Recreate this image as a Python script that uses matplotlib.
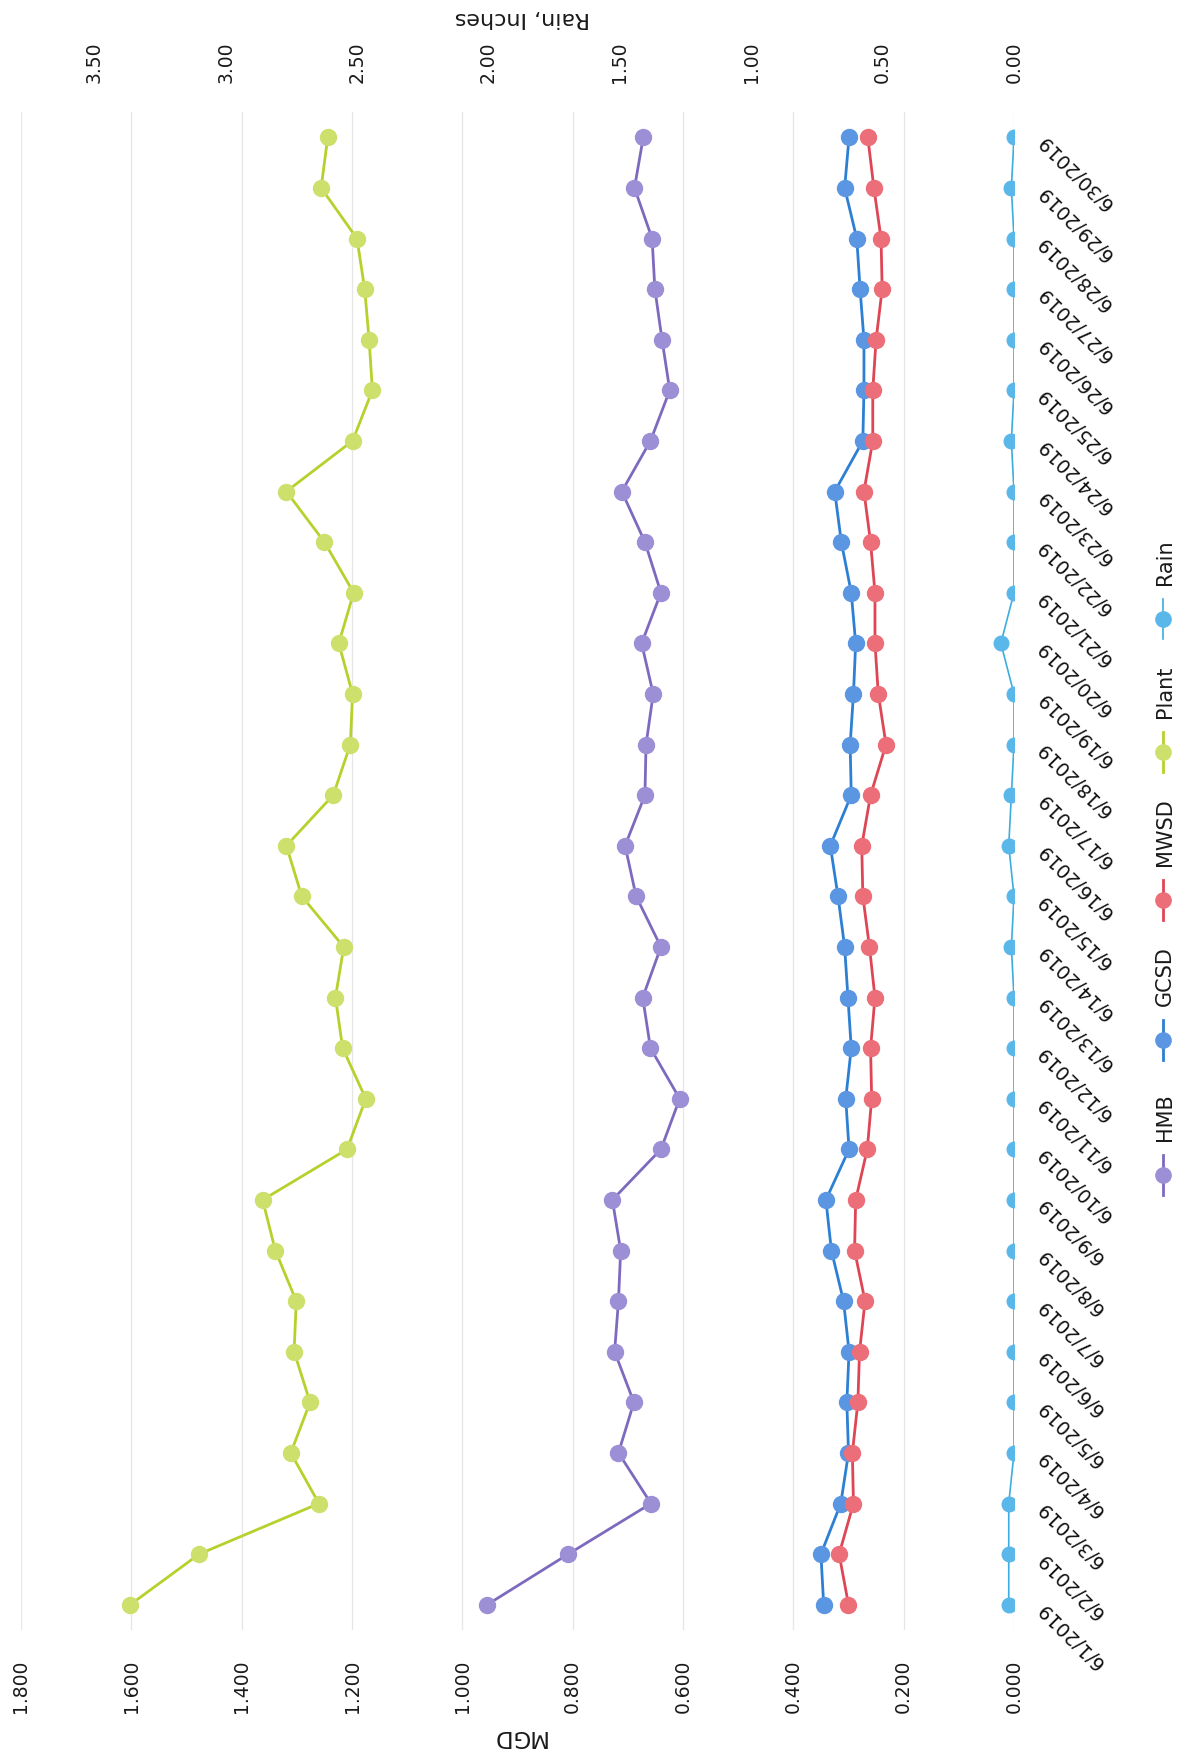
import numpy as np
import matplotlib
matplotlib.use("Agg")
import matplotlib.pyplot as plt
from matplotlib.lines import Line2D

# Daily flows (MGD) and rainfall (inches), June 2019
dates = ["6/%d/2019" % d for d in range(1, 31)]
hmb = [0.955, 0.808, 0.658, 0.717, 0.689, 0.724, 0.717, 0.713, 0.728, 0.640,
       0.606, 0.659, 0.673, 0.640, 0.685, 0.705, 0.669, 0.667, 0.654, 0.675,
       0.640, 0.669, 0.711, 0.659, 0.624, 0.638, 0.651, 0.656, 0.688, 0.672]
gcsd = [0.345, 0.350, 0.314, 0.300, 0.303, 0.299, 0.309, 0.331, 0.341, 0.299,
        0.305, 0.295, 0.301, 0.307, 0.319, 0.333, 0.295, 0.297, 0.291, 0.287,
        0.295, 0.313, 0.325, 0.274, 0.272, 0.272, 0.279, 0.285, 0.307, 0.299]
mwsd = [0.300, 0.317, 0.291, 0.293, 0.283, 0.280, 0.270, 0.289, 0.287, 0.266,
        0.258, 0.260, 0.252, 0.262, 0.274, 0.276, 0.260, 0.232, 0.246, 0.252,
        0.252, 0.260, 0.272, 0.256, 0.256, 0.250, 0.239, 0.241, 0.254, 0.265]
plant = [1.602, 1.477, 1.260, 1.311, 1.276, 1.305, 1.301, 1.339, 1.362, 1.209,
         1.175, 1.217, 1.230, 1.215, 1.291, 1.319, 1.234, 1.203, 1.199, 1.224,
         1.197, 1.250, 1.319, 1.199, 1.163, 1.169, 1.177, 1.191, 1.256, 1.244]
rain = [0.02, 0.02, 0.02, 0.00, 0.00, 0.00, 0.00, 0.00, 0.00, 0.00,
        0.00, 0.00, 0.00, 0.01, 0.00, 0.02, 0.01, 0.00, 0.00, 0.05,
        0.00, 0.00, 0.00, 0.01, 0.00, 0.00, 0.00, 0.00, 0.01, 0.00]

mgd_ticks = [0.0, 0.2, 0.4, 0.6, 0.8, 1.0, 1.2, 1.4, 1.6, 1.8]
rain_ticks = [0.0, 0.5, 1.0, 1.5, 2.0, 2.5, 3.0, 3.5]

series = [
    ("Plant", plant, "#b5d12c", "#cde06c"),
    ("HMB", hmb, "#7d6abf", "#9c8fd5"),
    ("GCSD", gcsd, "#2c7fd3", "#5b96e2"),
    ("MWSD", mwsd, "#de4655", "#ec6e79"),
]
rain_line, rain_face = "#3badde", "#5ab7ea"

W, H = 1177, 1754
fig = plt.figure(figsize=(W / 100, H / 100), dpi=100)
fig.patch.set_facecolor("white")

narrow = ["Liberation Sans Narrow", "DejaVu Sans"]
txt = "#1a1a1a"

# The chart is laid on its side: values run right-to-left, days bottom-to-top
ax = fig.add_axes([21 / W, 1 - 1630 / H, (1014 - 21) / W, (1630 - 112) / H])
idx = np.arange(len(dates))
ax.set_ylim(-0.5, len(dates) - 0.5)
ax.set_xlim(1.8, 0.0)

for name, vals, lc, fc in series:
    ax.plot(vals, idx, color=lc, lw=2.0, marker="o", ms=11.5,
            markerfacecolor=fc, markeredgecolor=fc, zorder=3)

ax.set_xticks(mgd_ticks)
ax.set_xticklabels(["%.3f" % v for v in mgd_ticks], rotation=90,
                   fontsize=13.5, color=txt)
ax.tick_params(axis="x", length=0, pad=21)
ax.grid(axis="x", color="#e6e6e6", lw=0.9)
ax.set_axisbelow(True)
for s in ax.spines.values():
    s.set_visible(False)

ax.set_yticks(idx)
ax.set_yticklabels(dates, fontsize=13.8, color="#111111")
ax.yaxis.tick_right()
ax.tick_params(axis="y", length=0, pad=19)
for lab in ax.get_yticklabels():
    lab.set_rotation(135)
    lab.set_rotation_mode("anchor")
    lab.set_ha("right")
    lab.set_va("center")

# Rain on its own value axis along the top
ax2 = ax.twiny()
ax2.set_xlim(3.78, 0.0)
ax2.plot(rain, idx, color=rain_line, lw=1.2, marker="o", ms=10.5,
         markerfacecolor=rain_face, markeredgecolor=rain_face, zorder=4)
ax2.set_xticks(rain_ticks)
ax2.set_xticklabels(["%.2f" % v for v in rain_ticks], rotation=90,
                    fontsize=13.5, color=txt)
ax2.tick_params(axis="x", length=0, pad=21)
for s in ax2.spines.values():
    s.set_visible(False)

fig.text(518 / W, 1 - 1737 / H, "MGD", rotation=180, ha="center",
         va="center", fontsize=16.5, family=narrow, color=txt)
fig.text(522 / W, 1 - 18 / H, "Rain, Inches", rotation=180, ha="center",
         va="center", fontsize=16, family=narrow, color=txt)

# Legend, stacked along the right edge
legend_items = [
    ("HMB", "#7d6abf", "#9c8fd5", 1175, 2.0),
    ("GCSD", "#2c7fd3", "#5b96e2", 1040, 2.0),
    ("MWSD", "#de4655", "#ec6e79", 900, 2.0),
    ("Plant", "#b5d12c", "#cde06c", 752, 2.0),
    ("Rain", rain_line, rain_face, 619, 1.2),
]
lx = 1163 / W
for name, lc, fc, yc, lw in legend_items:
    fig.add_artist(Line2D([lx, lx], [1 - (yc + 20) / H, 1 - (yc - 20) / H],
                          color=lc, lw=lw, transform=fig.transFigure))
    fig.add_artist(Line2D([lx], [1 - yc / H], marker="o", ms=11, color=lc,
                          markerfacecolor=fc, markeredgecolor=fc,
                          transform=fig.transFigure))
    fig.text(1165 / W, 1 - (yc - 34) / H, name, rotation=90,
             rotation_mode="anchor", ha="left", va="center", fontsize=15,
             family=narrow, color=txt)

fig.savefig("out.png", dpi=100, facecolor="white")
